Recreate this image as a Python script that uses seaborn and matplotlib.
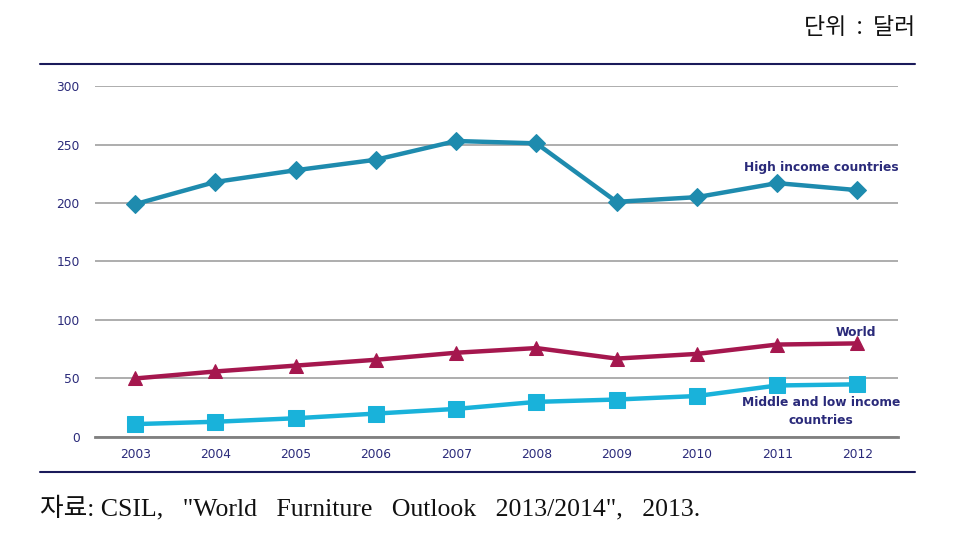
import matplotlib
matplotlib.use("Agg")
import matplotlib.pyplot as plt
import seaborn as sns
import pandas as pd
from matplotlib.lines import Line2D

# data
years = [2003, 2004, 2005, 2006, 2007, 2008, 2009, 2010, 2011, 2012]
high_income = [199, 218, 228, 237, 253, 251, 201, 205, 217, 211]
world = [50, 56, 61, 66, 72, 76, 67, 71, 79, 80]
mid_low_income = [11, 13, 16, 20, 24, 30, 32, 35, 44, 45]

series_names = ["High income countries", "World", "Middle and low income\ncountries"]
series_colors = ["#1E8BAE", "#A5174E", "#19B2DA"]
series_markers = ["D", "^", "s"]
series_sizes = [9.5, 10, 12]

sns.set_theme(style="white")
plt.rcParams['font.family'] = ['DejaVu Sans', 'Noto Sans CJK KR']

df = pd.DataFrame({
    "year": years * 3,
    "value": high_income + world + mid_low_income,
    "series": sum([[n] * len(years) for n in series_names], []),
})

fig = plt.figure(figsize=(9.54, 5.39), dpi=100)
ax = fig.add_axes([0.0996, 0.1893, 0.8412, 0.6511])

for name, col, mk, ms in zip(series_names, series_colors, series_markers, series_sizes):
    sub = df[df["series"] == name]
    sns.lineplot(data=sub, x="year", y="value", color=col, marker=mk,
                 markersize=ms, markeredgecolor=col, linewidth=3.2, ax=ax,
                 legend=False, zorder=3)

ax.set_xlim(2002.5, 2012.5)
ax.set_ylim(0, 300)
ax.set_yticks(range(0, 301, 50))
ax.set_xticks(years)
ax.set_xticks([y + 0.5 for y in years[:-1]] + [2002.5, 2012.5], minor=True)
ax.tick_params(axis="x", which="major", length=0, labelsize=8.8,
               labelcolor="#2A2A7A", pad=8)
ax.tick_params(axis="x", which="minor", length=4, width=1, color="#808080",
               direction="out")
ax.tick_params(axis="y", length=0, labelsize=8.8, labelcolor="#2A2A7A", pad=11)
ax.grid(axis="y", color="#A0A0A0", linewidth=1.2)
ax.set_axisbelow(True)
for s in ["top", "right", "left"]:
    ax.spines[s].set_visible(False)
ax.spines["bottom"].set_color("#808080")
ax.spines["bottom"].set_linewidth(2)
ax.set_xlabel("")
ax.set_ylabel("")

lab_kw = dict(fontsize=8.8, fontweight="bold", color="#2A2A7A", ha="center")
ax.text(2011.55, 225, "High income countries", va="bottom", **lab_kw)
ax.text(2011.98, 84, "World", va="bottom", **lab_kw)
ax.text(2011.55, 35, "Middle and low income\ncountries", va="top",
        linespacing=1.45, **lab_kw)

# frame lines above and below the chart
fig.add_artist(Line2D([40 / 954, 915 / 954], [1 - 64 / 539, 1 - 64 / 539],
                      color="#1A1A5A", linewidth=1.5))
fig.add_artist(Line2D([40 / 954, 915 / 954], [1 - 472 / 539, 1 - 472 / 539],
                      color="#1A1A5A", linewidth=1.5))

fig.text(915 / 954, 1 - 27 / 539, "단위  :  달러", ha="right", va="center",
         fontsize=16.5, family=["Noto Sans CJK KR"], color="#111111")
fig.text(40 / 954, 1 - 508 / 539,
         "자료: CSIL,   \"World   Furniture   Outlook   2013/2014\",   2013.",
         ha="left", va="center", fontsize=18.5,
         family=["Liberation Serif", "Noto Sans CJK KR"], color="#111111")

fig.savefig("out.png", dpi=100)
